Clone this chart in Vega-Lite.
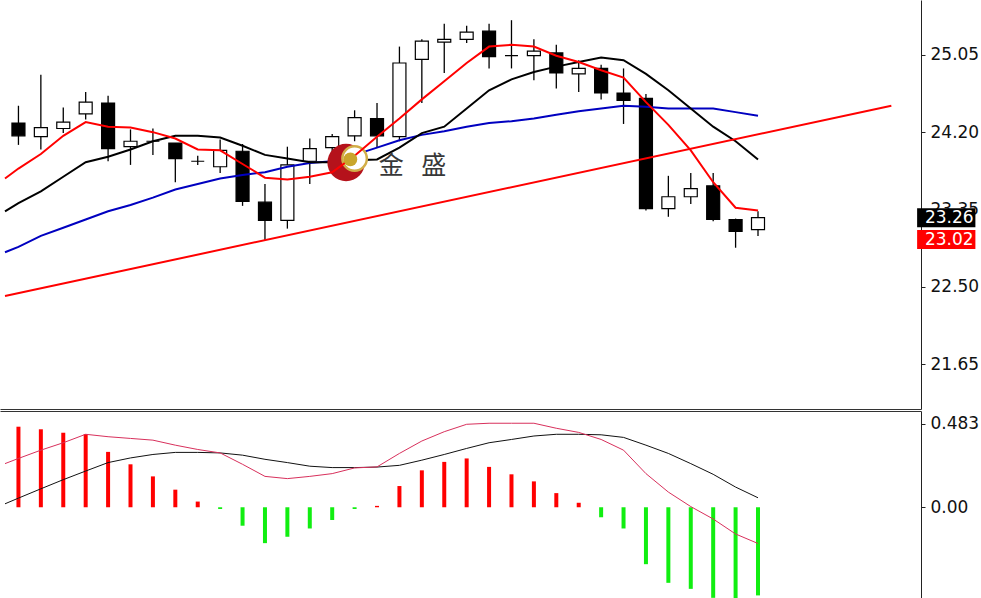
{
  "$schema": "https://vega.github.io/schema/vega-lite/v6.json",
  "padding": 0,
  "background": "white",
  "spacing": 2,
  "config": {
    "view": {"stroke": null},
    "axis": {"grid": false, "labelFont": "DejaVu Sans", "labelFontSize": 17, "labelColor": "#111111", "domainColor": "#222222", "tickColor": "#222222", "title": null}
  },
  "resolve": {"scale": {"y": "independent"}},
  "datasets": {
    "candles": [
      {"i": 0, "o": 24.30, "h": 24.49, "l": 24.06, "c": 24.16},
      {"i": 1, "o": 24.15, "h": 24.83, "l": 24.01, "c": 24.25},
      {"i": 2, "o": 24.24, "h": 24.47, "l": 24.19, "c": 24.31},
      {"i": 3, "o": 24.40, "h": 24.64, "l": 24.34, "c": 24.53},
      {"i": 4, "o": 24.52, "h": 24.60, "l": 23.88, "c": 24.02},
      {"i": 5, "o": 24.04, "h": 24.23, "l": 23.84, "c": 24.10},
      {"i": 6, "o": 24.10, "h": 24.24, "l": 23.95, "c": 24.10},
      {"i": 7, "o": 24.08, "h": 24.08, "l": 23.65, "c": 23.91},
      {"i": 8, "o": 23.88, "h": 23.94, "l": 23.84, "c": 23.88},
      {"i": 9, "o": 23.82, "h": 24.12, "l": 23.75, "c": 24.00},
      {"i": 10, "o": 23.99, "h": 24.07, "l": 23.39, "c": 23.44},
      {"i": 11, "o": 23.43, "h": 23.63, "l": 23.01, "c": 23.23},
      {"i": 12, "o": 23.23, "h": 24.04, "l": 23.14, "c": 23.84},
      {"i": 13, "o": 23.88, "h": 24.13, "l": 23.63, "c": 24.02},
      {"i": 14, "o": 24.03, "h": 24.18, "l": 23.95, "c": 24.15},
      {"i": 15, "o": 24.16, "h": 24.44, "l": 24.10, "c": 24.36},
      {"i": 16, "o": 24.35, "h": 24.52, "l": 24.03, "c": 24.16},
      {"i": 17, "o": 24.15, "h": 25.14, "l": 24.10, "c": 24.96},
      {"i": 18, "o": 25.00, "h": 25.22, "l": 24.52, "c": 25.20},
      {"i": 19, "o": 25.19, "h": 25.39, "l": 24.85, "c": 25.22},
      {"i": 20, "o": 25.22, "h": 25.37, "l": 25.18, "c": 25.30},
      {"i": 21, "o": 25.31, "h": 25.39, "l": 24.90, "c": 25.03},
      {"i": 22, "o": 25.04, "h": 25.43, "l": 24.90, "c": 25.04},
      {"i": 23, "o": 25.04, "h": 25.22, "l": 24.77, "c": 25.09},
      {"i": 24, "o": 25.07, "h": 25.16, "l": 24.68, "c": 24.85},
      {"i": 25, "o": 24.84, "h": 24.99, "l": 24.64, "c": 24.90},
      {"i": 26, "o": 24.90, "h": 24.94, "l": 24.56, "c": 24.63},
      {"i": 27, "o": 24.63, "h": 24.90, "l": 24.29, "c": 24.55},
      {"i": 28, "o": 24.57, "h": 24.62, "l": 23.34, "c": 23.36},
      {"i": 29, "o": 23.36, "h": 23.72, "l": 23.27, "c": 23.49},
      {"i": 30, "o": 23.49, "h": 23.75, "l": 23.41, "c": 23.58},
      {"i": 31, "o": 23.61, "h": 23.75, "l": 23.22, "c": 23.24},
      {"i": 32, "o": 23.24, "h": 23.25, "l": 22.93, "c": 23.11},
      {"i": 33, "o": 23.13, "h": 23.33, "l": 23.06, "c": 23.26}
    ],
    "ma": [
      {"i": -0.6, "ma5": 23.69, "ma10": 23.33, "ma20": 22.88},
      {"i": 0, "ma5": 23.80, "ma10": 23.42, "ma20": 22.94},
      {"i": 1, "ma5": 23.96, "ma10": 23.55, "ma20": 23.06},
      {"i": 2, "ma5": 24.16, "ma10": 23.71, "ma20": 23.15},
      {"i": 3, "ma5": 24.31, "ma10": 23.87, "ma20": 23.24},
      {"i": 4, "ma5": 24.26, "ma10": 23.93, "ma20": 23.33},
      {"i": 5, "ma5": 24.25, "ma10": 24.01, "ma20": 23.40},
      {"i": 6, "ma5": 24.20, "ma10": 24.10, "ma20": 23.48},
      {"i": 7, "ma5": 24.13, "ma10": 24.16, "ma20": 23.57},
      {"i": 8, "ma5": 24.01, "ma10": 24.16, "ma20": 23.63},
      {"i": 9, "ma5": 24.00, "ma10": 24.14, "ma20": 23.69},
      {"i": 10, "ma5": 23.85, "ma10": 24.05, "ma20": 23.73},
      {"i": 11, "ma5": 23.70, "ma10": 23.95, "ma20": 23.76},
      {"i": 12, "ma5": 23.68, "ma10": 23.91, "ma20": 23.82},
      {"i": 13, "ma5": 23.71, "ma10": 23.87, "ma20": 23.86},
      {"i": 14, "ma5": 23.76, "ma10": 23.87, "ma20": 23.88},
      {"i": 15, "ma5": 23.94, "ma10": 23.89, "ma20": 23.95},
      {"i": 16, "ma5": 24.15, "ma10": 23.90, "ma20": 24.03},
      {"i": 17, "ma5": 24.35, "ma10": 24.03, "ma20": 24.11},
      {"i": 18, "ma5": 24.56, "ma10": 24.19, "ma20": 24.17},
      {"i": 19, "ma5": 24.76, "ma10": 24.26, "ma20": 24.21},
      {"i": 20, "ma5": 24.96, "ma10": 24.46, "ma20": 24.26},
      {"i": 21, "ma5": 25.14, "ma10": 24.66, "ma20": 24.30},
      {"i": 22, "ma5": 25.16, "ma10": 24.78, "ma20": 24.32},
      {"i": 23, "ma5": 25.14, "ma10": 24.86, "ma20": 24.35},
      {"i": 24, "ma5": 25.04, "ma10": 24.92, "ma20": 24.39},
      {"i": 25, "ma5": 24.97, "ma10": 24.97, "ma20": 24.43},
      {"i": 26, "ma5": 24.88, "ma10": 25.02, "ma20": 24.46},
      {"i": 27, "ma5": 24.80, "ma10": 24.99, "ma20": 24.49},
      {"i": 28, "ma5": 24.53, "ma10": 24.84, "ma20": 24.48},
      {"i": 29, "ma5": 24.28, "ma10": 24.66, "ma20": 24.46},
      {"i": 30, "ma5": 24.00, "ma10": 24.46, "ma20": 24.46},
      {"i": 31, "ma5": 23.65, "ma10": 24.26, "ma20": 24.46},
      {"i": 32, "ma5": 23.37, "ma10": 24.10, "ma20": 24.42},
      {"i": 33, "ma5": 23.34, "ma10": 23.90, "ma20": 24.38}
    ],
    "trend": [
      {"i": -0.6, "p": 22.40},
      {"i": 38.95, "p": 24.49}
    ],
    "levels": [
      {"level": 23.26, "kind": "bid", "label": "23.26"},
      {"level": 23.02, "kind": "support", "label": "23.02"}
    ],
    "logo": [
      {"part": "disk", "i": 14.62, "p": 23.866},
      {"part": "inner", "i": 15.0, "p": 23.91},
      {"part": "ball", "i": 14.81, "p": 23.90}
    ],
    "logotext": [
      {"i": 16.63, "p": 23.829, "t": "金"},
      {"i": 18.53, "p": 23.829, "t": "盛"}
    ],
    "macd": [
      {"i": -0.6, "macd": 0.253, "signal": 0.02},
      {"i": 0, "hist": 0.467, "macd": 0.283, "signal": 0.053},
      {"i": 1, "hist": 0.452, "macd": 0.331, "signal": 0.107},
      {"i": 2, "hist": 0.432, "macd": 0.374, "signal": 0.16},
      {"i": 3, "hist": 0.424, "macd": 0.423, "signal": 0.21},
      {"i": 4, "hist": 0.321, "macd": 0.409, "signal": 0.259},
      {"i": 5, "hist": 0.249, "macd": 0.399, "signal": 0.286},
      {"i": 6, "hist": 0.179, "macd": 0.389, "signal": 0.306},
      {"i": 7, "hist": 0.102, "macd": 0.36, "signal": 0.318},
      {"i": 8, "hist": 0.033, "macd": 0.335, "signal": 0.318},
      {"i": 9, "hist": -0.01, "macd": 0.315, "signal": 0.315},
      {"i": 10, "hist": -0.107, "macd": 0.249, "signal": 0.302},
      {"i": 11, "hist": -0.208, "macd": 0.179, "signal": 0.278},
      {"i": 12, "hist": -0.171, "macd": 0.166, "signal": 0.259},
      {"i": 13, "hist": -0.123, "macd": 0.179, "signal": 0.238},
      {"i": 14, "hist": -0.074, "macd": 0.195, "signal": 0.23},
      {"i": 15, "hist": -0.01, "macd": 0.228, "signal": 0.23},
      {"i": 16, "hist": 0.008, "macd": 0.234, "signal": 0.233},
      {"i": 17, "hist": 0.123, "macd": 0.312, "signal": 0.243},
      {"i": 18, "hist": 0.214, "macd": 0.384, "signal": 0.273},
      {"i": 19, "hist": 0.263, "macd": 0.438, "signal": 0.306},
      {"i": 20, "hist": 0.283, "macd": 0.481, "signal": 0.341},
      {"i": 21, "hist": 0.234, "macd": 0.487, "signal": 0.374},
      {"i": 22, "hist": 0.191, "macd": 0.487, "signal": 0.393},
      {"i": 23, "hist": 0.15, "macd": 0.487, "signal": 0.413},
      {"i": 24, "hist": 0.082, "macd": 0.458, "signal": 0.423},
      {"i": 25, "hist": 0.026, "macd": 0.434, "signal": 0.423},
      {"i": 26, "hist": -0.058, "macd": 0.393, "signal": 0.42},
      {"i": 27, "hist": -0.123, "macd": 0.331, "signal": 0.405},
      {"i": 28, "hist": -0.33, "macd": 0.195, "signal": 0.36},
      {"i": 29, "hist": -0.438, "macd": 0.088, "signal": 0.312},
      {"i": 30, "hist": -0.473, "macd": 0.004, "signal": 0.253},
      {"i": 31, "hist": -0.525, "macd": -0.068, "signal": 0.191},
      {"i": 32, "hist": -0.529, "macd": -0.155, "signal": 0.117},
      {"i": 33, "hist": -0.511, "macd": -0.21, "signal": 0.055}
    ]
  },
  "vconcat": [
    {
      "width": 921,
      "height": 409,
      "layer": [
        {
          "data": {"name": "levels"},
          "mark": {"type": "rule"},
          "encoding": {
            "x": {"field": "i", "type": "quantitative", "scale": {"domain": [-0.6, 40.05], "nice": false, "zero": false}, "axis": {"orient": "bottom", "labels": false, "ticks": false, "domain": true, "domainColor": "#333333", "title": null, "minExtent": 0, "maxExtent": 0}},
            "y": {"field": "level", "type": "quantitative", "scale": {"domain": [21.213, 25.597], "nice": false, "zero": false}, "axis": {"orient": "right", "values": [21.65, 22.5, 23.35, 24.2, 25.05], "format": ".2f", "tickSize": 4, "labelPadding": 5, "domainColor": "#222222"}},
            "color": {"condition": {"test": "datum.kind == 'bid'", "value": "#c0c0c0"}, "value": "#ff0000"},
            "strokeWidth": {"condition": {"test": "datum.kind == 'bid'", "value": 1}, "value": 2}
          }
        },
        {
          "data": {"name": "candles"},
          "mark": {"type": "rule", "color": "#000000", "strokeWidth": 1.3},
          "encoding": {
            "x": {"field": "i", "type": "quantitative"},
            "y": {"field": "l", "type": "quantitative"},
            "y2": {"field": "h"}
          }
        },
        {
          "data": {"name": "candles"},
          "mark": {"type": "bar", "size": 13, "stroke": "#000000", "strokeWidth": 1.2, "orient": "vertical"},
          "encoding": {
            "x": {"field": "i", "type": "quantitative"},
            "y": {"field": "o", "type": "quantitative"},
            "y2": {"field": "c"},
            "fill": {"condition": {"test": "datum.c >= datum.o", "value": "#ffffff"}, "value": "#000000"}
          }
        },
        {
          "data": {"name": "ma"},
          "mark": {"type": "line", "color": "#0000c0", "strokeWidth": 2, "clip": true},
          "encoding": {"x": {"field": "i", "type": "quantitative"}, "y": {"field": "ma20", "type": "quantitative"}}
        },
        {
          "data": {"name": "ma"},
          "mark": {"type": "line", "color": "#000000", "strokeWidth": 2, "clip": true},
          "encoding": {"x": {"field": "i", "type": "quantitative"}, "y": {"field": "ma10", "type": "quantitative"}}
        },
        {
          "data": {"name": "trend"},
          "mark": {"type": "line", "color": "#ff0000", "strokeWidth": 2, "clip": true},
          "encoding": {"x": {"field": "i", "type": "quantitative"}, "y": {"field": "p", "type": "quantitative"}}
        },
        {
          "data": {"name": "logo"},
          "transform": [{"filter": "datum.part == 'disk'"}],
          "mark": {"type": "circle", "size": 1400, "color": "#b5121b", "opacity": 1},
          "encoding": {"x": {"field": "i", "type": "quantitative"}, "y": {"field": "p", "type": "quantitative"}}
        },
        {
          "data": {"name": "logo"},
          "transform": [{"filter": "datum.part == 'inner'"}],
          "mark": {"type": "circle", "size": 600, "color": "#ffffff", "opacity": 1, "stroke": "#d2ae48", "strokeWidth": 2.5},
          "encoding": {"x": {"field": "i", "type": "quantitative"}, "y": {"field": "p", "type": "quantitative"}}
        },
        {
          "data": {"name": "ma"},
          "mark": {"type": "line", "color": "#ff0000", "strokeWidth": 2, "clip": true},
          "encoding": {"x": {"field": "i", "type": "quantitative"}, "y": {"field": "ma5", "type": "quantitative"}}
        },
        {
          "data": {"name": "logo"},
          "transform": [{"filter": "datum.part == 'ball'"}],
          "mark": {"type": "circle", "size": 190, "color": "#c9a62c", "opacity": 1},
          "encoding": {"x": {"field": "i", "type": "quantitative"}, "y": {"field": "p", "type": "quantitative"}}
        },
        {
          "data": {"name": "logotext"},
          "mark": {"type": "text", "font": "Noto Sans CJK SC", "fontSize": 25, "color": "#383838", "align": "center", "baseline": "middle"},
          "encoding": {
            "x": {"field": "i", "type": "quantitative"},
            "y": {"field": "p", "type": "quantitative"},
            "text": {"field": "t"}
          }
        },
        {
          "data": {"name": "levels"},
          "mark": {"type": "bar", "orient": "horizontal", "size": 19, "clip": false},
          "encoding": {
            "x": {"datum": 40.1, "type": "quantitative"},
            "x2": {"datum": 42.7},
            "y": {"field": "level", "type": "quantitative"},
            "color": {"condition": {"test": "datum.kind == 'bid'", "value": "#000000"}, "value": "#ff0000"}
          }
        },
        {
          "data": {"name": "levels"},
          "mark": {"type": "text", "align": "left", "baseline": "middle", "font": "DejaVu Sans", "fontSize": 17, "color": "#ffffff", "clip": false},
          "encoding": {
            "x": {"datum": 40.45, "type": "quantitative"},
            "y": {"field": "level", "type": "quantitative"},
            "text": {"field": "label"}
          }
        }
      ]
    },
    {
      "width": 921,
      "height": 187,
      "data": {"name": "macd"},
      "layer": [
        {
          "transform": [{"filter": "isValid(datum.hist)"}],
          "mark": {"type": "bar", "size": 4, "clip": true, "orient": "vertical"},
          "encoding": {
            "x": {"field": "i", "type": "quantitative", "scale": {"domain": [-0.6, 40.05], "nice": false, "zero": false}, "axis": {"orient": "top", "labels": false, "ticks": false, "domain": true, "domainColor": "#333333", "title": null, "minExtent": 0, "maxExtent": 0}},
            "y": {"field": "hist", "type": "quantitative", "scale": {"domain": [-0.526, 0.558], "nice": false, "zero": false}, "axis": {"orient": "right", "values": [0, 0.483], "labelExpr": "datum.value == 0 ? '0.00' : format(datum.value, '.3f')", "tickSize": 4, "labelPadding": 5}},
            "y2": {"datum": 0},
            "color": {"condition": {"test": "datum.hist >= 0", "value": "#ff0000"}, "value": "#11ee11"}
          }
        },
        {
          "mark": {"type": "line", "color": "#111111", "strokeWidth": 1, "clip": true},
          "encoding": {"x": {"field": "i", "type": "quantitative"}, "y": {"field": "signal", "type": "quantitative"}}
        },
        {
          "mark": {"type": "line", "color": "#d8305c", "strokeWidth": 1, "clip": true},
          "encoding": {"x": {"field": "i", "type": "quantitative"}, "y": {"field": "macd", "type": "quantitative"}}
        }
      ]
    }
  ]
}
